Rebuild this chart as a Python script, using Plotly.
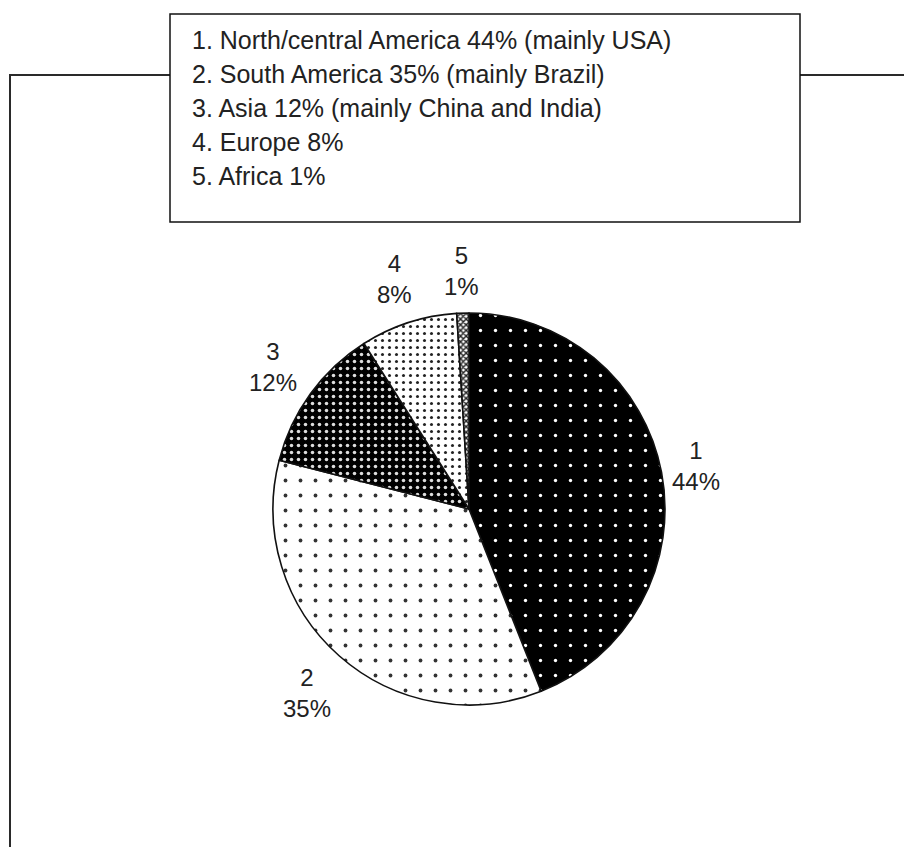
import math
import plotly.graph_objects as go

# ---- data ----
slice_ids = ["1", "2", "3", "4", "5"]
shares = [44, 35, 12, 8, 1]
legend_lines = [
    "1. North/central America 44% (mainly USA)",
    "2. South America 35% (mainly Brazil)",
    "3. Asia 12% (mainly China and India)",
    "4. Europe 8%",
    "5. Africa 1%",
]

W, H = 912, 847
OFF = 8  # the page body adds an 8px margin around the figure
FONT = "Liberation Sans, Arial, sans-serif"
LABEL_SIZE = 24


def px(x):
    return (x - OFF) / W


def py(y):
    return 1 - (y - OFF) / H


def text_width(s, size):
    # approximate Arial advance widths (em) for digits and percent sign
    widths = {"%": 0.889}
    return sum(widths.get(ch, 0.556) for ch in s) * size


# pie occupies a square centred at (469, 509) with radius 196 px
cx, cy, r = 469, 509, 196
GAP = 5          # gap between the pie edge and the label box
HALF_H = 37      # half height of a two-line label box

fig = go.Figure(
    go.Pie(
        labels=slice_ids,
        values=shares,
        sort=False,
        direction="clockwise",
        rotation=0,
        textinfo="none",
        hoverinfo="skip",
        showlegend=False,
        domain=dict(x=[px(cx - r), px(cx + r)], y=[py(cy + r), py(cy - r)]),
        marker=dict(
            colors=["#000000", "#ffffff", "#000000", "#ffffff", "#ffffff"],
            line=dict(color="#111111", width=1.6),
            pattern=dict(
                shape=[".", ".", ".", ".", "x"],
                size=[15, 15, 7, 7, 4],
                solidity=[0.04, 0.05, 0.2, 0.15, 0.6],
                fgcolor=["#ffffff", "#333333", "#dddddd", "#222222", "#222222"],
                bgcolor=["#000000", "#ffffff", "#000000", "#ffffff", "#ffffff"],
                fgopacity=1,
            ),
        ),
    )
)

shapes = [
    # outer frame (continues beyond the visible area on the right and bottom)
    dict(type="rect", xref="paper", yref="paper",
         x0=px(10), x1=px(960), y0=py(900), y1=py(75),
         line=dict(color="#2a2a2a", width=2), fillcolor="rgba(0,0,0,0)"),
    # legend box
    dict(type="rect", xref="paper", yref="paper",
         x0=px(170), x1=px(800), y0=py(222), y1=py(14),
         line=dict(color="#111111", width=1.5), fillcolor="#ffffff"),
]

annotations = []
for i, line in enumerate(legend_lines):
    annotations.append(dict(
        xref="paper", yref="paper", x=px(190), y=py(40 + 34 * i),
        xanchor="left", yanchor="middle", showarrow=False,
        text=line, font=dict(family=FONT, size=25, color="#222222"),
    ))

# slice labels placed along each slice's mid-angle, just outside the pie
total = sum(shares)
cum = 0
for sid, val in zip(slice_ids, shares):
    mid = (cum + val / 2) / total * 2 * math.pi
    cum += val
    s, c = math.sin(mid), math.cos(mid)
    pct = f"{val}%"
    half_w = max(text_width(sid, LABEL_SIZE), text_width(pct, LABEL_SIZE)) / 2
    dist = r + GAP + half_w * abs(s) + HALF_H * abs(c)
    lx = cx + dist * s
    ly = cy - dist * c
    annotations.append(dict(
        xref="paper", yref="paper", x=px(lx), y=py(ly),
        xanchor="center", yanchor="middle", showarrow=False,
        text=f"{sid}<br>{pct}", align="center",
        font=dict(family=FONT, size=LABEL_SIZE, color="#222222"),
    ))

fig.update_layout(
    width=W, height=H,
    margin=dict(l=0, r=0, t=0, b=0),
    paper_bgcolor="#ffffff", plot_bgcolor="#ffffff",
    shapes=shapes, annotations=annotations,
)

fig.write_html("out.html")
